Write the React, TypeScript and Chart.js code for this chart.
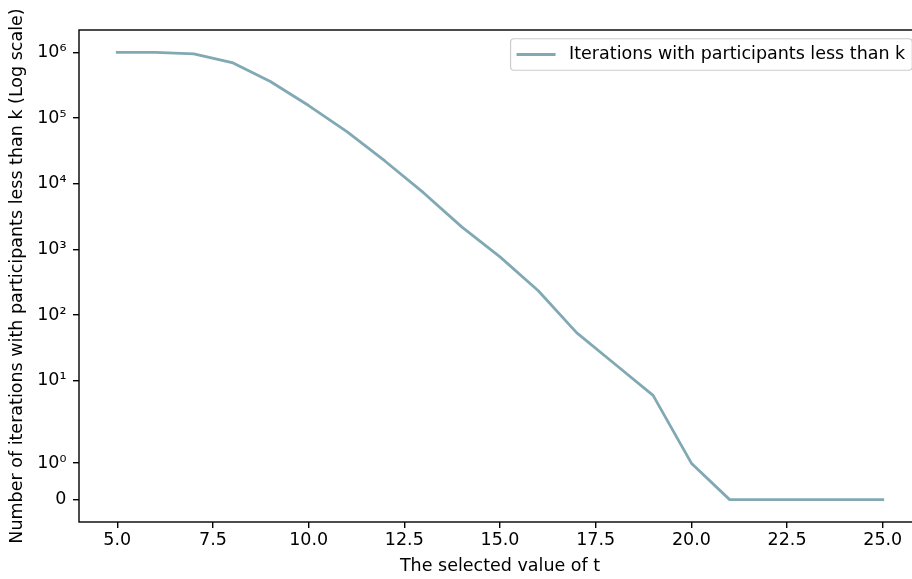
import { useEffect, useRef } from 'react';
import { Chart, Scale, registerables } from 'chart.js';

// Selected value of t and the number of iterations (out of 10^6) in which
// fewer than k participants took part.
const tValues = [5, 6, 7, 8, 9, 10, 11, 12, 13, 14, 15, 16, 17, 18, 19, 20, 21, 22, 23, 24, 25];
const iterationsBelowK = [
  1000000, 1000000, 950000, 700000, 360000, 155000, 62000, 22000, 7300, 2200,
  770, 235, 54, 18, 6, 1, 0, 0, 0, 0, 0,
];

const xTickValues = [5, 7.5, 10, 12.5, 15, 17.5, 20, 22.5, 25];
const yTickValues = [0, 1, 10, 100, 1000, 10000, 100000, 1000000];
const yTickLabels = ['0', '10⁰', '10¹', '10²', '10³', '10⁴', '10⁵', '10⁶'];

const seriesLabel = 'Iterations with participants less than k';
const xTitle = 'The selected value of t';
const yTitle = 'Number of iterations with participants less than k (Log scale)';

const LINE_COLOR = '#80a9b3';
const FONT = 'DejaVu Sans';
const FONT_SIZE = 17.5;

// Symmetric log transform: linear near zero, logarithmic beyond the threshold.
const LINTHRESH = 2;
const LINSCALE_ADJ = 1 / (1 - 1 / 10);

function symlog(v: number): number {
  const a = Math.abs(v);
  if (a <= LINTHRESH) return v * LINSCALE_ADJ;
  return Math.sign(v) * LINTHRESH * (LINSCALE_ADJ + Math.log10(a / LINTHRESH));
}

function symexp(t: number): number {
  const a = Math.abs(t);
  if (a <= LINTHRESH * LINSCALE_ADJ) return t / LINSCALE_ADJ;
  return Math.sign(t) * LINTHRESH * Math.pow(10, a / LINTHRESH - LINSCALE_ADJ);
}

class SymlogScale extends Scale {
  static id = 'symlog';
  static defaults = {};
  _tLo = 0;
  _tHi = 1;

  determineDataLimits() {
    const { min, max } = this.getMinMax(true);
    this.min = min;
    this.max = max;
  }

  buildTicks() {
    return [];
  }

  configure() {
    super.configure();
    const lo = symlog(this.min);
    const hi = symlog(this.max);
    const pad = (hi - lo) * 0.05;
    this._tLo = lo - pad;
    this._tHi = hi + pad;
  }

  getLabelForValue(value: number) {
    return String(value);
  }

  getPixelForValue(value: number) {
    return this.getPixelForDecimal((symlog(value) - this._tLo) / (this._tHi - this._tLo));
  }

  getValueForPixel(pixel: number) {
    return symexp(this._tLo + this.getDecimalForPixel(pixel) * (this._tHi - this._tLo));
  }
}

Chart.register(...registerables, SymlogScale);

// Axes frame drawn on top of the line.
const framePlugin = {
  id: 'frame',
  afterDatasetsDraw(chart: any) {
    const { ctx, chartArea: a } = chart;
    ctx.save();
    ctx.strokeStyle = '#000';
    ctx.lineWidth = 1.4;
    ctx.strokeRect(a.left, a.top, a.right - a.left, a.bottom - a.top);
    ctx.restore();
  },
};

// Boxed legend in the upper right corner of the plot area.
const boxLegendPlugin = {
  id: 'boxLegend',
  afterDraw(chart: any) {
    const { ctx, chartArea: a } = chart;
    const ds = chart.data.datasets[0];
    ctx.save();
    ctx.font = `${FONT_SIZE}px "${FONT}"`;
    const textW = ctx.measureText(ds.label).width;
    const right = a.right - 8.75;
    const top = a.top + 8.75;
    const height = 31.5;
    const textX = right - 7 - textW;
    const handleEnd = textX - 13.5;
    const handleStart = handleEnd - 39;
    const left = handleStart - 6;
    const midY = top + height / 2;
    const r = 3.5;

    ctx.beginPath();
    ctx.moveTo(left + r, top);
    ctx.lineTo(right - r, top);
    ctx.arcTo(right, top, right, top + r, r);
    ctx.lineTo(right, top + height - r);
    ctx.arcTo(right, top + height, right - r, top + height, r);
    ctx.lineTo(left + r, top + height);
    ctx.arcTo(left, top + height, left, top + height - r, r);
    ctx.lineTo(left, top + r);
    ctx.arcTo(left, top, left + r, top, r);
    ctx.closePath();
    ctx.fillStyle = 'rgba(255,255,255,0.8)';
    ctx.fill();
    ctx.strokeStyle = '#cccccc';
    ctx.lineWidth = 1.2;
    ctx.stroke();

    ctx.beginPath();
    ctx.moveTo(handleStart, midY);
    ctx.lineTo(handleEnd, midY);
    ctx.strokeStyle = ds.borderColor;
    ctx.lineWidth = ds.borderWidth;
    ctx.lineCap = 'butt';
    ctx.stroke();

    ctx.fillStyle = '#000';
    ctx.textAlign = 'left';
    ctx.textBaseline = 'middle';
    ctx.fillText(ds.label, textX, midY);
    ctx.restore();
  },
};

export default function App() {
  const canvasRef = useRef<HTMLCanvasElement | null>(null);

  useEffect(() => {
    const canvas = canvasRef.current;
    if (!canvas) return;
    Chart.defaults.font.family = FONT;
    Chart.defaults.font.size = FONT_SIZE;
    Chart.defaults.color = '#000';

    const chart = new Chart(canvas, {
      type: 'line',
      data: {
        datasets: [
          {
            label: seriesLabel,
            data: tValues.map((t, i) => ({ x: t, y: iterationsBelowK[i] })),
            borderColor: LINE_COLOR,
            borderWidth: 2.8,
            borderCapStyle: 'square',
            borderJoinStyle: 'round',
            pointRadius: 0,
            tension: 0,
            fill: false,
          },
        ],
      },
      options: {
        responsive: false,
        animation: false,
        devicePixelRatio: 1,
        layout: { padding: { top: 30, right: 19, left: 0, bottom: 0 } },
        plugins: {
          legend: { display: false },
          tooltip: { enabled: false },
        },
        scales: {
          x: {
            type: 'linear',
            min: 4,
            max: 26,
            afterBuildTicks: (s: any) => {
              s.ticks = xTickValues.map((value) => ({ value }));
            },
            afterFit: (s: any) => {
              s.height = 57;
            },
            ticks: {
              autoSkip: false,
              maxRotation: 0,
              padding: 1.5,
              color: '#000',
              font: { size: FONT_SIZE },
              callback: (v: any) => Number(v).toFixed(1),
            },
            grid: {
              drawOnChartArea: false,
              drawTicks: true,
              tickLength: 6,
              color: '#000',
              lineWidth: 1.4,
            },
            border: { display: false },
            title: {
              display: true,
              text: xTitle,
              color: '#000',
              font: { size: FONT_SIZE },
              padding: { top: 0, bottom: 2.5 },
            },
          },
          y: {
            type: 'symlog',
            min: 0,
            max: 1000000,
            afterBuildTicks: (s: any) => {
              s.ticks = yTickValues.map((value) => ({ value }));
            },
            afterFit: (s: any) => {
              s.width = 79;
            },
            ticks: {
              autoSkip: false,
              padding: 6.5,
              color: '#000',
              font: { size: FONT_SIZE },
              callback: (v: any) => {
                const i = yTickValues.indexOf(Number(v));
                return i >= 0 ? yTickLabels[i] : '';
              },
            },
            grid: {
              drawOnChartArea: false,
              drawTicks: true,
              tickLength: 6,
              color: '#000',
              lineWidth: 1.4,
            },
            border: { display: false },
            title: {
              display: true,
              text: yTitle,
              color: '#000',
              font: { size: FONT_SIZE },
              padding: { top: 7, bottom: 0 },
            },
          },
        } as any,
      },
      plugins: [framePlugin, boxLegendPlugin],
    } as any);

    return () => chart.destroy();
  }, []);

  return (
    <div
      style={{
        position: 'fixed',
        left: 0,
        top: 0,
        width: 912,
        height: 579,
        overflow: 'hidden',
        background: '#fff',
      }}
    >
      <canvas ref={canvasRef} width={940} height={579} style={{ display: 'block' }} />
    </div>
  );
}
